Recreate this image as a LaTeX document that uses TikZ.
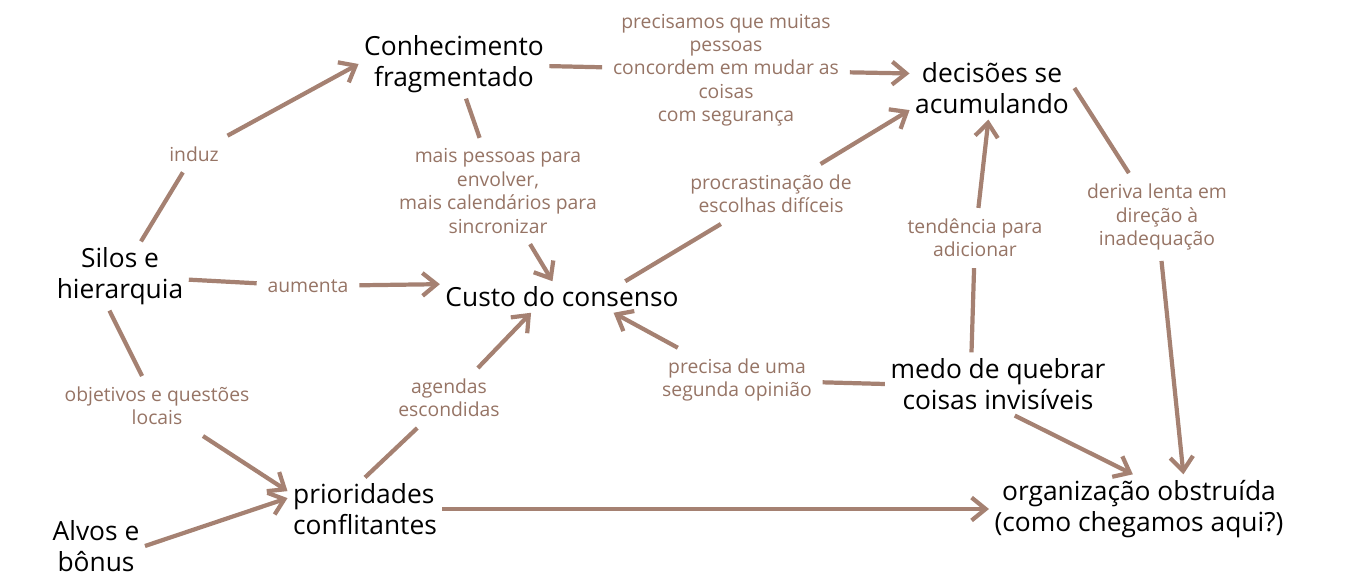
\documentclass[tikz,border=0pt]{standalone}
\usepackage{fontspec}
\setmainfont{Open Sans}
\usepackage{xcolor}
\usetikzlibrary{arrows.meta}
\definecolor{edgebrown}{RGB}{165,129,114}
\definecolor{labelbrown}{RGB}{150,116,101}

\begin{document}
\begin{tikzpicture}[x=0.02cm, y=-0.02cm, >={Straight Barb[length=8pt,width=13pt]},
  every node/.style={align=center},
  box/.style={font=\fontsize{15}{18}\selectfont, inner sep=3pt},
  lbl/.style={font=\fontsize{11}{13.3}\selectfont, text=labelbrown, inner sep=6pt},
  link/.style={draw=edgebrown, line width=2.4pt}]
  \useasboundingbox (0,0) rectangle (1347,582);

  \node[box] (conh) at (454,64) {Conhecimento\\fragmentado};
  \node[box] (dec) at (992,88) {decisões se\\acumulando};
  \node[box] (silos) at (120,276) {Silos e\\hierarquia};
  \node[box] (custo) at (562,297) {Custo do consenso};
  \node[box] (medo) at (998,384) {medo de quebrar\\coisas invisíveis};
  \node[box, align=left] (prio) at (365,509) {prioridades\\conflitantes};
  \node[box] (alvos) at (96,546) {Alvos e\\bônus};
  \node[box] (org) at (1139,509) {organização obstruída\\(como chegamos aqui?)};

  \node[lbl] (induz) at (194,154) {induz};
  \node[lbl] (prec) at (726,70) {precisamos que muitas\\pessoas\\concordem em mudar as\\coisas\\com segurança};
  \node[lbl] (mais) at (498,191) {mais pessoas para\\envolver,\\mais calendários para\\sincronizar};
  \node[lbl] (proc) at (771,194) {procrastinação de\\escolhas difíceis};
  \node[lbl] (tend) at (975,238) {tendência para\\adicionar};
  \node[lbl] (deriva) at (1157,217) {deriva lenta em\\direção à\\inadequação};
  \node[lbl] (aumenta) at (308,286) {aumenta};
  \node[lbl] (obj) at (157,406) {objetivos e questões\\locais};
  \node[lbl] (agendas) at (449,398) {agendas\\escondidas};
  \node[lbl] (precisa) at (737,380) {precisa de uma\\segunda opinião};

  \draw[link] (silos) -- (induz);
  \draw[link,->] (induz) -- (conh.west);
  \draw[link] (conh) -- (prec);
  \draw[link,->] (prec) -- (dec.170);
  \draw[link] (conh) -- (mais);
  \draw[link,->] (mais) -- (custo);
  \draw[link] (silos) -- (aumenta);
  \draw[link,->] (aumenta) -- (custo.174);
  \draw[link] (custo.14) -- (proc);
  \draw[link,->] (proc) -- (dec.195);
  \draw[link] (silos.253) -- (obj);
  \draw[link,->] (obj) -- (prio.167);
  \draw[link,->] (alvos.east) -- (prio.172);
  \draw[link] (prio.north) -- (agendas);
  \draw[link,->] (agendas) -- (custo.207);
  \draw[link,->] (prio) -- (org);
  \draw[link] (medo.west) -- (precisa);
  \draw[link,->] (precisa) -- (custo.343);
  \draw[link] (medo.130) -- (tend);
  \draw[link,->] (tend) -- (dec);
  \draw[link] (dec.east) -- (deriva);
  \draw[link,->] (deriva) -- (org.38);
  \draw[link,->] (medo.298) -- (org.100);
\end{tikzpicture}
\end{document}
